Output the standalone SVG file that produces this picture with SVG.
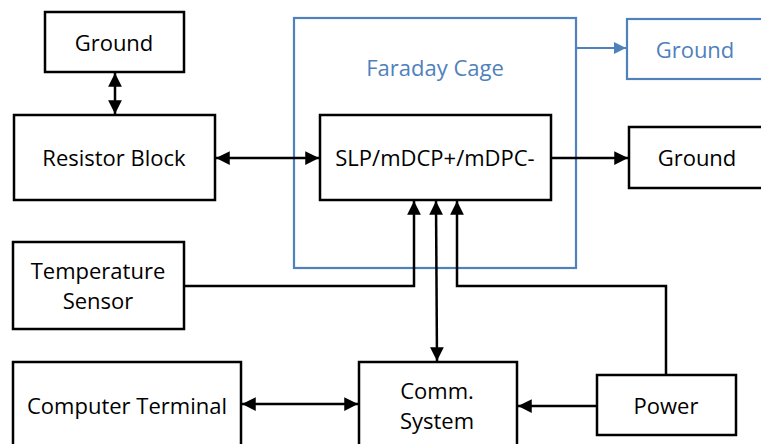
<svg xmlns="http://www.w3.org/2000/svg" width="761" height="444" viewBox="0 0 761 444">
<defs>
<style>
.box{fill:#fff;stroke:#000;stroke-width:2.5}
.bbox{fill:#fff;stroke:#4F81BD;stroke-width:2.2}
.t{font-family:"Open Sans","Noto Sans",sans-serif;font-size:22px;fill:#000;text-anchor:middle}
.bt{fill:#4F81BD}
.ln{fill:none;stroke:#000;stroke-width:2.5}
.bl{fill:none;stroke:#4F81BD;stroke-width:2.2}
</style>
<marker id="ah" viewBox="0 0 10 10" refX="10" refY="5" markerWidth="5.5" markerHeight="5.5" markerUnits="strokeWidth" orient="auto-start-reverse"><path d="M0,0 L10,5 L0,10 z" fill="#000"/></marker>
<marker id="ahb" viewBox="0 0 10 10" refX="10" refY="5" markerWidth="5.5" markerHeight="5.5" markerUnits="strokeWidth" orient="auto-start-reverse"><path d="M0,0 L10,5 L0,10 z" fill="#4F81BD"/></marker>
</defs>
<rect width="761" height="444" fill="#fff"/>
<g id="faraday-cage">
<rect class="bbox" x="294" y="18" width="282" height="250"/>
<text class="t bt" x="435" y="76">Faraday Cage</text>
</g>
<g id="connectors">
<line class="ln" x1="115" y1="73" x2="115" y2="114" marker-start="url(#ah)" marker-end="url(#ah)"/>
<line class="ln" x1="216" y1="158" x2="319" y2="158" marker-start="url(#ah)" marker-end="url(#ah)"/>
<line class="ln" x1="551" y1="158" x2="628" y2="158" marker-end="url(#ah)"/>
<line class="bl" x1="576" y1="48" x2="626" y2="48" marker-end="url(#ahb)"/>
<polyline class="ln" points="184,286 414,286 414,201" marker-end="url(#ah)"/>
<line class="ln" x1="436" y1="201" x2="437" y2="361" marker-start="url(#ah)" marker-end="url(#ah)"/>
<polyline class="ln" points="666,375 666,286 457,286 457,201" marker-end="url(#ah)"/>
<line class="ln" x1="242" y1="404" x2="358" y2="404" marker-start="url(#ah)" marker-end="url(#ah)"/>
<line class="ln" x1="597" y1="406" x2="518" y2="406" marker-end="url(#ah)"/>
</g>
<g id="ground-top">
<rect class="box" x="45" y="12" width="139" height="60"/>
<text class="t" x="114" y="51">Ground</text>
</g>
<g id="resistor-block">
<rect class="box" x="14" y="115" width="201" height="85"/>
<text class="t" x="114" y="166">Resistor Block</text>
</g>
<g id="slp">
<rect class="box" x="320" y="115" width="231" height="85"/>
<text class="t" x="435" y="166">SLP/mDCP+/mDPC-</text>
</g>
<g id="ground-blue">
<rect class="bbox" x="627" y="19" width="150" height="60"/>
<text class="t bt" x="695" y="58">Ground</text>
</g>
<g id="ground-right">
<rect class="box" x="629" y="127" width="150" height="61"/>
<text class="t" x="697" y="166">Ground</text>
</g>
<g id="temperature-sensor">
<rect class="box" x="13" y="242" width="171" height="87"/>
<text class="t" x="98" y="279">Temperature</text>
<text class="t" x="98" y="309">Sensor</text>
</g>
<g id="computer-terminal">
<rect class="box" x="13" y="362" width="228" height="100"/>
<text class="t" x="127" y="414">Computer Terminal</text>
</g>
<g id="comm-system">
<rect class="box" x="359" y="362" width="158" height="100"/>
<text class="t" x="437" y="399">Comm.</text>
<text class="t" x="437" y="429">System</text>
</g>
<g id="power">
<rect class="box" x="597" y="375" width="139" height="60"/>
<text class="t" x="666" y="414">Power</text>
</g>
</svg>
